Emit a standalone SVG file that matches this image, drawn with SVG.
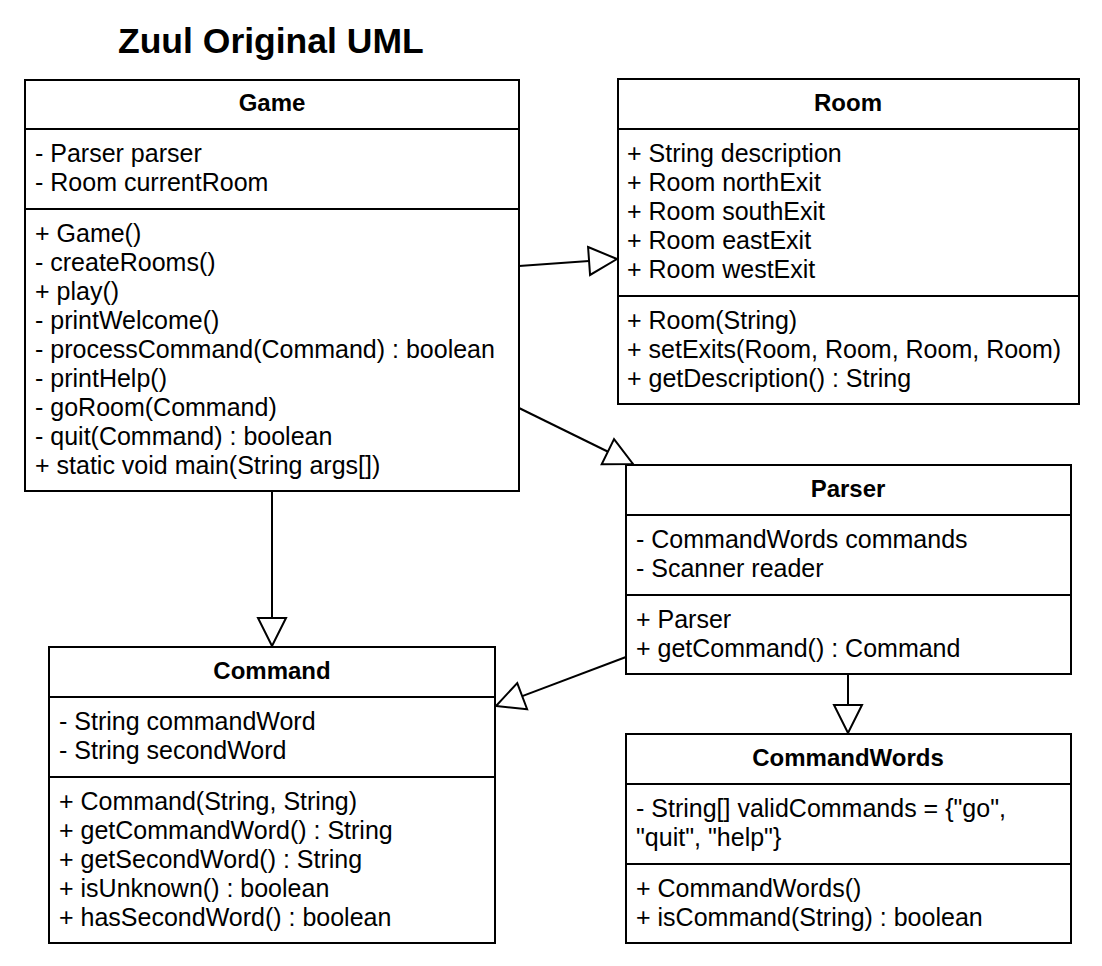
<svg xmlns="http://www.w3.org/2000/svg" width="1102" height="966" viewBox="0 0 1102 966">
<style>
.box{fill:#fff;stroke:#000;stroke-width:2}
.div{stroke:#000;stroke-width:2}
.t{font-family:"Liberation Sans",Arial,sans-serif;font-size:25px;fill:#000}
.h{font-family:"Liberation Sans",Arial,sans-serif;font-size:24px;font-weight:bold;fill:#000;text-anchor:middle}
.title{font-family:"Liberation Sans",Arial,sans-serif;font-size:35.5px;font-weight:bold;fill:#000}
.edge{stroke:#000;stroke-width:2;fill:none;marker-end:url(#tri)}
</style>
<defs>
<marker id="tri" viewBox="0 0 32 32" refX="30" refY="16" markerWidth="32" markerHeight="32" markerUnits="userSpaceOnUse" orient="auto">
<path d="M2,2 L30,16 L2,30 Z" fill="#fff" stroke="#000" stroke-width="2"/>
</marker>
</defs>
<rect width="1102" height="966" fill="#fff"/>
<text class="title" x="118" y="53">Zuul Original UML</text>
<g id="connectors">
<line class="edge" x1="519" y1="266" x2="617" y2="259"/>
<line class="edge" x1="519" y1="408" x2="633" y2="464"/>
<line class="edge" x1="272" y1="491" x2="272" y2="646"/>
<line class="edge" x1="626" y1="657" x2="496" y2="706"/>
<line class="edge" x1="848" y1="674" x2="848" y2="733"/>
</g>
<g id="Game">
<rect class="box" x="25" y="80" width="494" height="411"/>
<line class="div" x1="25" y1="129" x2="519" y2="129"/>
<line class="div" x1="25" y1="209" x2="519" y2="209"/>
<text class="h" x="272" y="111">Game</text>
<text class="t" x="35" y="162">- Parser parser</text>
<text class="t" x="35" y="191">- Room currentRoom</text>
<text class="t" x="35" y="242">+ Game()</text>
<text class="t" x="35" y="271">- createRooms()</text>
<text class="t" x="35" y="300">+ play()</text>
<text class="t" x="35" y="329">- printWelcome()</text>
<text class="t" x="35" y="358">- processCommand(Command) : boolean</text>
<text class="t" x="35" y="387">- printHelp()</text>
<text class="t" x="35" y="416">- goRoom(Command)</text>
<text class="t" x="35" y="445">- quit(Command) : boolean</text>
<text class="t" x="35" y="474">+ static void main(String args[])</text>
</g>
<g id="Room">
<rect class="box" x="618" y="79" width="461" height="325"/>
<line class="div" x1="618" y1="129" x2="1079" y2="129"/>
<line class="div" x1="618" y1="296" x2="1079" y2="296"/>
<text class="h" x="848" y="111">Room</text>
<text class="t" x="627" y="162">+ String description</text>
<text class="t" x="627" y="191">+ Room northExit</text>
<text class="t" x="627" y="220">+ Room southExit</text>
<text class="t" x="627" y="249">+ Room eastExit</text>
<text class="t" x="627" y="278">+ Room westExit</text>
<text class="t" x="627" y="329">+ Room(String)</text>
<text class="t" x="627" y="358">+ setExits(Room, Room, Room, Room)</text>
<text class="t" x="627" y="387">+ getDescription() : String</text>
</g>
<g id="Parser">
<rect class="box" x="626" y="465" width="445" height="209"/>
<line class="div" x1="626" y1="515" x2="1071" y2="515"/>
<line class="div" x1="626" y1="595" x2="1071" y2="595"/>
<text class="h" x="848" y="497">Parser</text>
<text class="t" x="636" y="548">- CommandWords commands</text>
<text class="t" x="636" y="577">- Scanner reader</text>
<text class="t" x="636" y="628">+ Parser</text>
<text class="t" x="636" y="657">+ getCommand() : Command</text>
</g>
<g id="Command">
<rect class="box" x="49" y="647" width="446" height="296"/>
<line class="div" x1="49" y1="697" x2="495" y2="697"/>
<line class="div" x1="49" y1="777" x2="495" y2="777"/>
<text class="h" x="272" y="679">Command</text>
<text class="t" x="59" y="730">- String commandWord</text>
<text class="t" x="59" y="759">- String secondWord</text>
<text class="t" x="59" y="810">+ Command(String, String)</text>
<text class="t" x="59" y="839">+ getCommandWord() : String</text>
<text class="t" x="59" y="868">+ getSecondWord() : String</text>
<text class="t" x="59" y="897">+ isUnknown() : boolean</text>
<text class="t" x="59" y="926">+ hasSecondWord() : boolean</text>
</g>
<g id="CommandWords">
<rect class="box" x="626" y="734" width="445" height="209"/>
<line class="div" x1="626" y1="784" x2="1071" y2="784"/>
<line class="div" x1="626" y1="864" x2="1071" y2="864"/>
<text class="h" x="848" y="766">CommandWords</text>
<text class="t" x="636" y="817">- String[] validCommands = {"go",</text>
<text class="t" x="636" y="846">"quit", "help"}</text>
<text class="t" x="636" y="897">+ CommandWords()</text>
<text class="t" x="636" y="926">+ isCommand(String) : boolean</text>
</g>
</svg>
